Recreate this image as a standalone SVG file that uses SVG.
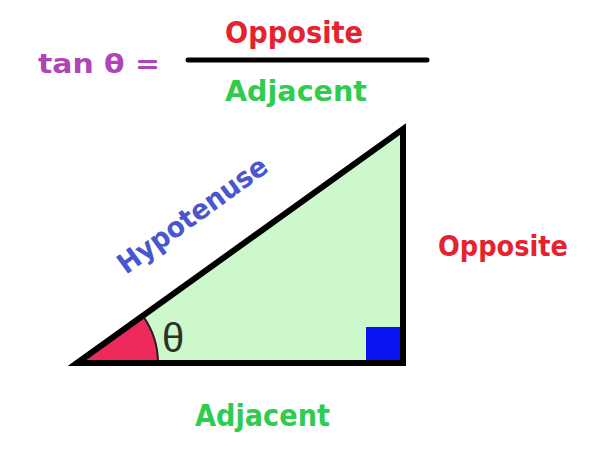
<svg xmlns="http://www.w3.org/2000/svg" width="600" height="450" viewBox="0 0 600 450">
<style>
.lbl{font-family:"DejaVu Sans","Liberation Sans",sans-serif;font-weight:bold;}
.red{fill:#e5222e;}
.green{fill:#2fcc4f;}
.blue{fill:#4a55d0;}
.purple{fill:#b043b8;}
</style>
<rect width="600" height="450" fill="#ffffff"/>
<g id="formula">
<text class="lbl purple" x="38" y="73" font-size="27" textLength="122" lengthAdjust="spacingAndGlyphs">tan θ =</text>
<text class="lbl red" x="225" y="43" font-size="30" textLength="138" lengthAdjust="spacingAndGlyphs">Opposite</text>
<line x1="188" y1="60" x2="427" y2="60" stroke="#000" stroke-width="5" stroke-linecap="round"/>
<text class="lbl green" x="225" y="101" font-size="29" textLength="142" lengthAdjust="spacingAndGlyphs">Adjacent</text>
</g>
<g id="triangle">
<polygon points="77,363 403,129 403,363" fill="#ccf8cc"/>
<path d="M77,363 L158,363 A81,81 0 0 0 142.8,315.8 Z" fill="#ee2a5c"/>
<path d="M158,363 A81,81 0 0 0 142.8,315.8" fill="none" stroke="#222" stroke-width="2"/>
<rect x="366" y="327" width="35" height="34" fill="#0a14f0"/>
<polygon points="77,363 403,129 403,363" fill="none" stroke="#000" stroke-width="6" stroke-linejoin="miter"/>
<text x="162" y="352" font-family="Liberation Sans, sans-serif" font-size="40" fill="#2a332a">θ</text>
</g>
<g id="labels">
<text class="lbl blue" font-size="28" transform="translate(126,275) rotate(-36)" textLength="178" lengthAdjust="spacingAndGlyphs">Hypotenuse</text>
<text class="lbl red" x="438" y="256" font-size="28" textLength="130" lengthAdjust="spacingAndGlyphs">Opposite</text>
<text class="lbl green" x="195" y="426" font-size="31" textLength="135" lengthAdjust="spacingAndGlyphs">Adjacent</text>
</g>
</svg>
